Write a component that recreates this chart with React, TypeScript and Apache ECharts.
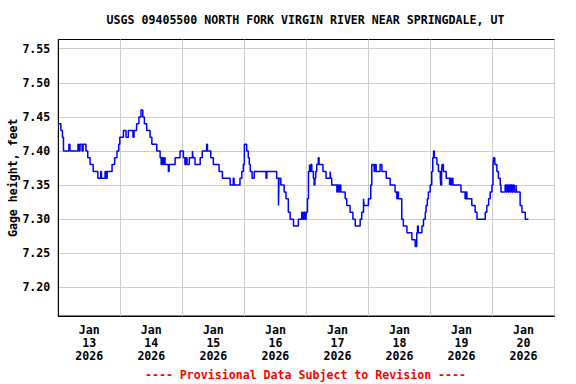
import React, { useEffect, useRef } from "react";
import * as echarts from "echarts";

// Hours since 2026-01-13 00:00 (local station time) and gage height in feet
const hoursSinceJan13: number[] = [
  0, 1.0, 1.6, 2.0, 4.1, 4.5, 7.6, 8.0, 8.4, 9.2, 9.6, 10.7, 11.4, 12.3, 13.5, 15.3, 16.4, 16.7, 18.1, 18.5, 18.9,
  20.8, 21.8, 22.7, 23.4, 23.8, 25.2, 26.2, 27.1, 28.9, 29.3, 30.3, 31.2, 32.0, 32.7, 33.3, 34.2, 35.5, 36.2,
  38.1, 39.4, 39.8, 40.1, 40.5, 40.9, 41.3, 42.6, 42.9, 45.2, 47.1, 48.4, 49.0, 49.4, 49.8, 50.7, 51.9, 52.1,
  52.9, 54.9, 55.7, 57.4, 57.7, 59.0, 60.0, 62.2, 63.5, 66.5, 67.7, 68.0, 70.3, 71.0, 71.6, 72.0, 72.9, 73.5,
  73.9, 74.3, 75.0, 75.8, 80.4, 80.7, 84.5, 85.2, 85.4, 86.1, 87.4, 88.1, 89.0, 89.7, 91.0, 92.9, 94.2, 94.7,
  95.1, 95.5, 95.9, 96.4, 96.8, 97.2, 97.4, 97.7, 98.1, 98.7, 99.0, 99.3, 99.6, 100.0, 100.6, 100.9, 102.4,
  103.6, 105.2, 105.4, 105.8, 107.8, 108.1, 108.5, 108.9, 109.3, 111.0, 111.6, 112.9, 114.0, 114.9, 116.8,
  117.4, 118.1, 118.3, 120.0, 120.9, 121.3, 122.2, 122.6, 123.0, 124.5, 125.2, 126.9, 128.4, 130.3, 131.0,
  131.3, 131.6, 132.9, 133.5, 134.9, 136.8, 138.1, 138.7, 139.0, 139.3, 140.7, 141.3, 142.0, 142.3, 142.8,
  143.2, 143.9, 144.5, 144.9, 145.2, 145.5, 146.5, 147.1, 147.8, 148.0, 148.3, 148.5, 149.0, 150.1, 151.4,
  151.6, 152.0, 152.4, 152.7, 155.8, 157.4, 157.8, 158.1, 160.0, 161.3, 162.0, 165.2, 165.8, 166.5, 167.1,
  167.8, 168.2, 168.4, 168.9, 169.7, 170.3, 171.0, 171.3, 172.9, 173.3, 173.7, 174.1, 174.5, 174.9, 175.2,
  175.6, 176.0, 176.4, 177.1, 177.3, 178.7, 179.4, 180.7, 181.9,
];

const gageHeightFeet: number[] = [
  7.44, 7.43, 7.42, 7.40, 7.41, 7.40, 7.41, 7.40, 7.41, 7.40, 7.41, 7.40, 7.39, 7.38, 7.37, 7.36, 7.37, 7.36, 7.37, 7.36, 7.37,
  7.38, 7.39, 7.40, 7.41, 7.42, 7.43, 7.42, 7.43, 7.42, 7.43, 7.44, 7.45, 7.46, 7.45, 7.44, 7.43, 7.42, 7.41,
  7.40, 7.39, 7.38, 7.39, 7.38, 7.39, 7.38, 7.37, 7.38, 7.39, 7.40, 7.39, 7.38, 7.39, 7.38, 7.39, 7.40, 7.39,
  7.38, 7.39, 7.40, 7.41, 7.40, 7.39, 7.38, 7.37, 7.36, 7.35, 7.36, 7.35, 7.36, 7.37, 7.38, 7.41, 7.40, 7.39,
  7.38, 7.37, 7.36, 7.37, 7.36, 7.37, 7.36, 7.32, 7.36, 7.35, 7.34, 7.33, 7.31, 7.30, 7.29, 7.30, 7.31, 7.30,
  7.31, 7.30, 7.31, 7.33, 7.37, 7.38, 7.37, 7.38, 7.37, 7.36, 7.35, 7.36, 7.37, 7.38, 7.39, 7.38, 7.37,
  7.36, 7.37, 7.36, 7.35, 7.34, 7.35, 7.34, 7.35, 7.34, 7.33, 7.32, 7.31, 7.30, 7.29, 7.30,
  7.31, 7.33, 7.32, 7.33, 7.35, 7.38, 7.37, 7.38, 7.37, 7.38, 7.37, 7.36, 7.35, 7.34, 7.33,
  7.34, 7.33, 7.30, 7.29, 7.28, 7.27, 7.26, 7.28, 7.29, 7.28, 7.29, 7.30, 7.31, 7.32, 7.33,
  7.34, 7.35, 7.37, 7.39, 7.40, 7.39, 7.38, 7.37, 7.36, 7.35, 7.37, 7.38, 7.37, 7.36, 7.35,
  7.36, 7.35, 7.36, 7.35, 7.34, 7.33, 7.34, 7.33, 7.32, 7.31, 7.30, 7.31, 7.32, 7.33, 7.34,
  7.35, 7.38, 7.39, 7.38, 7.37, 7.36, 7.35, 7.34, 7.35, 7.34, 7.35, 7.34, 7.35, 7.34, 7.35,
  7.34, 7.35, 7.34, 7.35, 7.34, 7.32, 7.31, 7.30, 7.30,
];

const dayLabels: string[] = [
  "Jan\n13\n2026", "Jan\n14\n2026", "Jan\n15\n2026", "Jan\n16\n2026",
  "Jan\n17\n2026", "Jan\n18\n2026", "Jan\n19\n2026", "Jan\n20\n2026",
];
const labelHours: number[] = [12, 36, 60, 84, 108, 132, 156, 180];
const yTicks: number[] = [7.2, 7.25, 7.3, 7.35, 7.4, 7.45, 7.5, 7.55];

const titleText = "USGS 09405500 NORTH FORK VIRGIN RIVER NEAR SPRINGDALE, UT";
const footerText = "---- Provisional Data Subject to Revision ----";
const yName = "Gage height, feet";

const FONT = "'DejaVu Sans Mono', 'Liberation Mono', monospace";

export default function App() {
  const ref = useRef<HTMLDivElement>(null);
  useEffect(() => {
    if (!ref.current) return;
    const chart = echarts.init(ref.current, undefined, { renderer: "svg" });
    const data = hoursSinceJan13.map((h, i) => [h, gageHeightFeet[i]]);
    chart.setOption({
      animation: false,
      backgroundColor: "#ffffff",
      textStyle: { fontFamily: FONT },
      grid: {
        left: 58.3,
        right: 21.5,
        top: 39.5,
        bottom: 68,
        show: true,
        borderColor: "#000000",
        borderWidth: 1,
        backgroundColor: "transparent",
        containLabel: false,
        outerBoundsMode: "none",
      },
      graphic: [
        {
          type: "text",
          x: 305.5,
          y: 20,
          style: {
            text: titleText,
            fill: "#000000",
            font: `bold 11.6px ${FONT}`,
            textAlign: "center",
            textVerticalAlign: "middle",
          },
        },
        {
          type: "text",
          x: 305.5,
          y: 375,
          style: {
            text: footerText,
            fill: "#ff0000",
            font: `bold 11.6px ${FONT}`,
            textAlign: "center",
            textVerticalAlign: "middle",
          },
        },
      ],
      xAxis: {
        type: "value",
        min: 0,
        max: 192,
        interval: 24,
        axisLine: { show: true, lineStyle: { color: "#000000", width: 1 } },
        axisTick: { show: false },
        splitLine: { show: true, lineStyle: { color: "#cccccc", width: 1 } },
        axisLabel: {
          customValues: labelHours,
          formatter: (v: number) => dayLabels[Math.floor(v / 24)] ?? "",
          color: "#000000",
          fontFamily: FONT,
          fontWeight: "bold",
          fontSize: 11.6,
          lineHeight: 12.7,
          margin: 8,
        },
      },
      yAxis: {
        type: "value",
        min: 7.158,
        max: 7.5635,
        name: yName,
        nameLocation: "middle",
        nameGap: 39,
        nameMoveOverlap: false,
        nameTextStyle: {
          color: "#000000",
          fontFamily: FONT,
          fontWeight: "bold",
          fontSize: 11.6,
        },
        axisLine: { show: true, lineStyle: { color: "#000000", width: 1 } },
        axisTick: { show: false, customValues: yTicks },
        splitLine: { show: true, lineStyle: { color: "#cccccc", width: 1 } },
        axisLabel: {
          customValues: yTicks,
          formatter: (v: number) => v.toFixed(2),
          color: "#000000",
          fontFamily: FONT,
          fontWeight: "bold",
          fontSize: 11.6,
          margin: 8,
        },
      },
      series: [
        {
          type: "line",
          step: "end",
          data,
          showSymbol: false,
          symbol: "none",
          lineStyle: { color: "#0000ff", width: 1.5 },
          itemStyle: { color: "#0000ff" },
        },
      ],
    });
    return () => chart.dispose();
  }, []);
  return <div ref={ref} style={{ width: 576, height: 384, position: "absolute", left: 0, top: 0 }} />;
}
